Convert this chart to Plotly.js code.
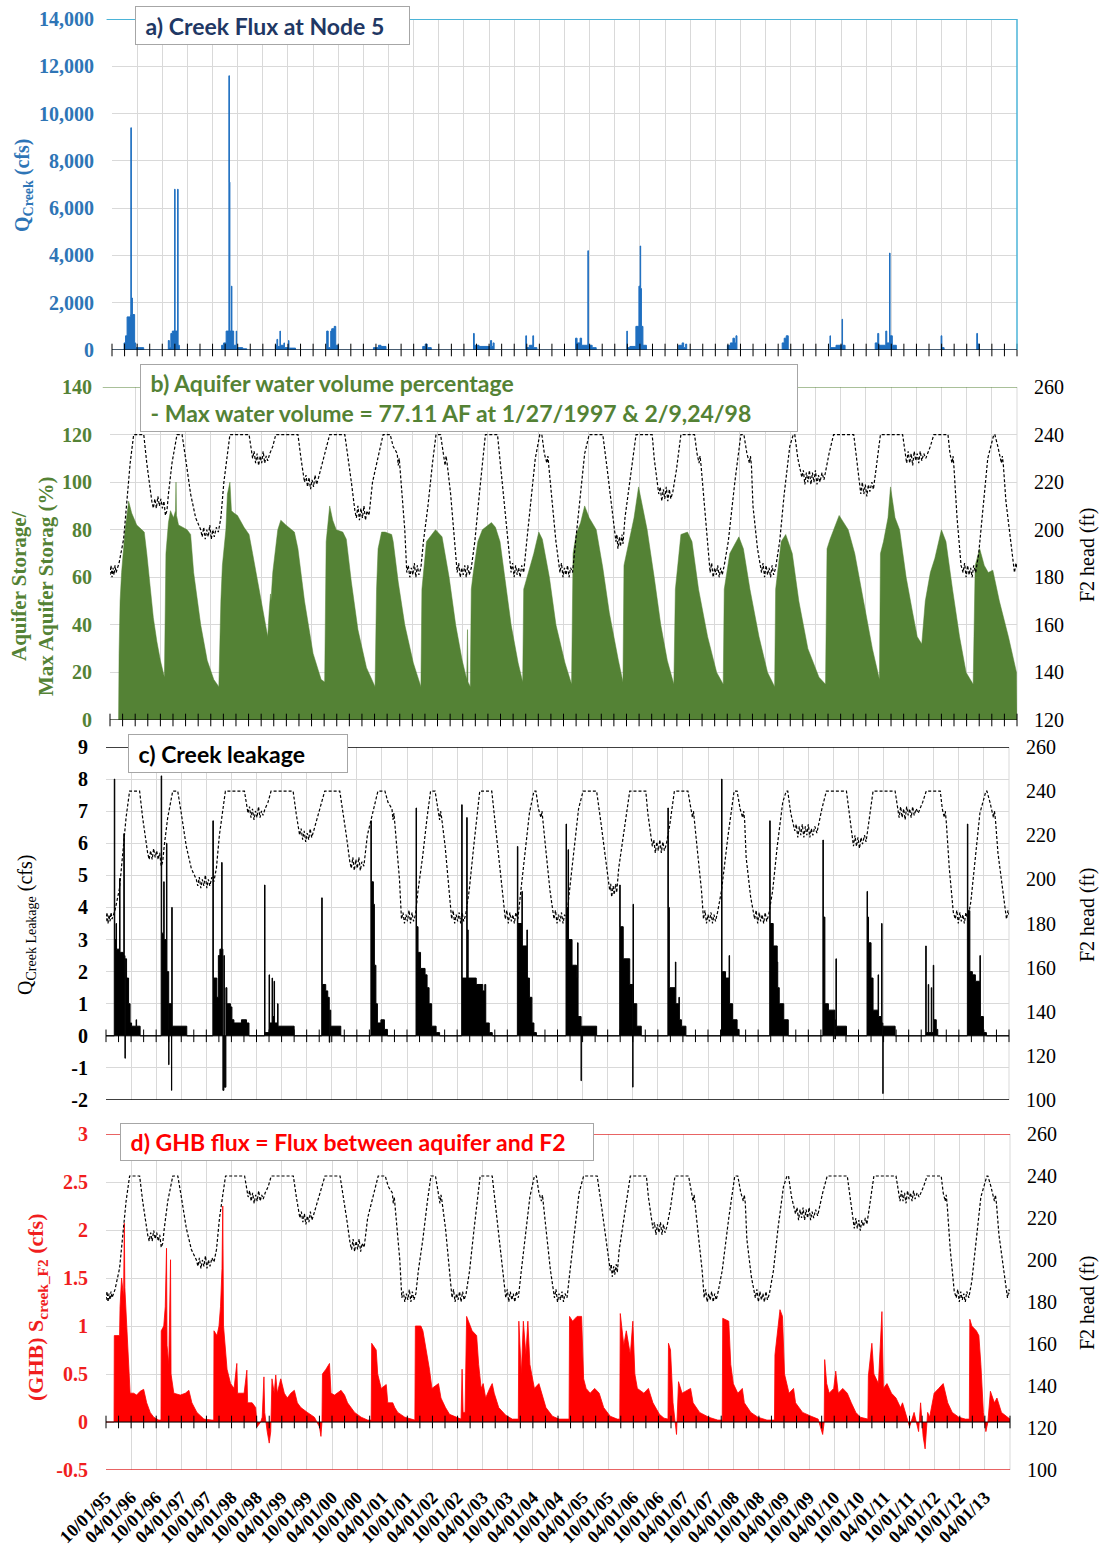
<!DOCTYPE html>
<html><head><meta charset="utf-8">
<script src="https://cdn.plot.ly/plotly-3.0.1.min.js"></script>
<style>html,body{margin:0;padding:0;background:#fff}#chart{width:1099px;height:1548px}</style>
</head><body><div id="chart"></div>
<script>
// ---------- tick labels ----------
const tickLabels = ['10/01/95','04/01/96','10/01/96','04/01/97','10/01/97','04/01/98','10/01/98','04/01/99','10/01/99','04/01/00',
  '10/01/00','04/01/01','10/01/01','04/01/02','10/01/02','04/01/03','10/01/03','04/01/04','10/01/04','04/01/05',
  '10/01/05','04/01/06','10/01/06','04/01/07','10/01/07','04/01/08','10/01/08','04/01/09','10/01/09','04/01/10',
  '10/01/10','04/01/11','10/01/11','04/01/12','10/01/12','04/01/13'];
const axisEndLabel = '10/01/13';

// ---------- a) Creek flux at node 5 (decimal year, cfs) ----------
const qCreekYear = [
 1995.75,1995.99,1996.02,1996.05,1996.12,1996.125,1996.135,1996.145,1996.155,1996.2,1996.22,1996.38,
 1996.87,1996.89,1996.92,1996.95,1996.995,1997.005,1997.055,1997.065,1997.09,
 1997.93,1997.97,1998.02,1998.075,1998.085,1998.095,1998.125,1998.135,1998.17,1998.22,1998.23,1998.35,1998.43,
 1999.0,1999.03,1999.045,1999.09,1999.1,1999.17,1999.18,1999.26,1999.27,1999.4,
 2000.02,2000.05,2000.1,2000.12,2000.17,2000.2,2000.25,
 2000.95,2001.05,2001.1,2001.2,
 2001.93,2001.98,2002.02,2002.1,
 2002.94,2002.955,2003.05,2003.28,2003.3,2003.33,2003.35,
 2003.98,2003.995,2004.05,2004.12,2004.135,2004.2,
 2004.97,2005.0,2005.06,2005.09,2005.215,2005.225,2005.3,2005.38,
 2005.99,2006.0,2006.05,2006.17,2006.23,2006.255,2006.265,2006.28,2006.31,2006.38,
 2007.02,2007.09,2007.12,2007.16,2007.18,
 2007.99,2008.05,2008.1,2008.13,2008.16,2008.18,
 2009.08,2009.12,2009.16,2009.2,
 2010.03,2010.04,2010.15,2010.27,2010.28,2010.33,
 2010.93,2010.98,2011.0,2011.14,2011.16,2011.215,2011.225,2011.27,2011.35,
 2012.24,2012.255,2012.3,
 2012.95,2012.965,2013.0,2013.75];
const qCreekCfs = [
 0,300,600,1400,1500,9400,1500,2200,1500,300,100,0,
 400,100,700,800,6800,800,6800,200,0,
 200,300,800,11600,7100,800,2700,800,200,800,100,50,0,
 200,450,150,800,200,300,100,400,80,0,
 800,100,800,900,1000,200,0,
 100,200,150,0,
 150,250,100,0,
 700,200,150,400,150,300,0,
 600,100,200,600,100,0,
 500,300,500,200,4200,200,100,0,
 800,100,150,1000,2700,4400,2600,1000,200,0,
 200,300,100,250,0,
 200,300,500,300,600,0,
 300,500,600,0,
 600,100,200,1300,200,0,
 300,700,200,800,300,4100,600,200,0,
 600,100,0,
 700,250,0,0];

// ---------- b) Aquifer storage / max storage (%) ----------
const storageYear = [
 1995.75,1995.92,1995.93,1995.95,1995.98,1996.05,1996.12,1996.18,1996.28,1996.38,1996.43,1996.48,1996.55,1996.61,1996.68,1996.75,1996.83,
 1996.86,1996.91,1996.95,1997.01,1997.05,1997.06,1997.07,1997.11,1997.28,1997.35,1997.41,1997.55,1997.68,1997.81,1997.91,
 1997.95,1997.98,1998.05,1998.08,1998.13,1998.16,1998.21,1998.28,1998.41,1998.51,1998.58,1998.68,1998.81,1998.88,
 1998.91,1998.935,1998.945,1998.98,1999.08,1999.14,1999.24,1999.41,1999.48,1999.61,1999.78,1999.94,2000.01,
 2000.04,2000.11,2000.17,2000.24,2000.37,2000.44,2000.54,2000.67,2000.84,2001.01,
 2001.04,2001.07,2001.14,2001.21,2001.34,2001.37,2001.47,2001.6,2001.77,2001.92,
 2001.94,2002.03,2002.21,2002.34,2002.48,2002.61,2002.74,2002.83,2002.845,2002.855,2002.9,
 2002.92,2002.96,2003.05,2003.14,2003.32,2003.4,2003.49,2003.58,2003.71,2003.85,2003.94,
 2003.96,2004.07,2004.16,2004.26,2004.33,2004.47,2004.6,2004.78,2004.91,
 2004.94,2005.0,2005.09,2005.17,2005.26,2005.4,2005.53,2005.66,2005.84,2005.93,
 2005.95,2006.02,2006.15,2006.24,2006.33,2006.41,2006.55,2006.68,2006.81,2006.94,
 2006.97,2007.08,2007.21,2007.3,2007.43,2007.61,2007.79,2007.92,
 2007.94,2008.05,2008.23,2008.32,2008.45,2008.63,2008.8,2008.94,
 2008.96,2009.07,2009.16,2009.29,2009.42,2009.6,2009.82,2009.95,
 2009.98,2010.04,2010.22,2010.4,2010.53,2010.71,2010.88,2011.02,
 2011.04,2011.1,2011.19,2011.24,2011.33,2011.42,2011.55,2011.68,2011.77,2011.86,
 2011.93,2012.03,2012.12,2012.25,2012.34,2012.47,2012.61,2012.74,2012.88,
 2012.92,2013.01,2013.1,2013.18,2013.27,2013.4,2013.58,2013.74,2013.75];
const storagePct = [
 0,0,28,50,62,80,92,87,82,80,79,70,55,43,33,25,18,
 70,83,88,85,88,100,86,82,80,78,62,40,25,17,14,
 50,65,80,95,100,88,87,86,81,78,70,58,43,35,
 46,53,50,62,80,84,82,79,72,50,28,17,16,
 75,90,84,80,79,76,58,38,22,14,
 55,72,79,79,78,75,58,40,24,14,
 55,75,80,77,60,40,25,17,38,16,14,
 55,62,75,80,83,81,75,60,40,24,16,
 55,63,70,79,76,60,40,24,15,
 70,78,83,90,85,80,64,45,25,16,
 65,72,85,98,88,80,60,40,25,15,
 55,78,79,75,55,35,20,15,
 55,70,77,72,55,35,20,14,
 55,75,78,70,50,30,18,15,
 72,76,86,80,70,50,30,17,
 70,75,85,98,85,80,60,45,35,32,
 50,62,68,80,75,55,35,20,15,
 65,72,65,62,63,50,35,20,0];

// ---------- c) Creek leakage (cfs) ----------
const leakYear = [
 1995.75,1995.915,1995.925,1995.95,1995.96,1996.02,1996.03,1996.105,1996.115,1996.128,1996.135,1996.16,1996.2,1996.23,1996.26,1996.35,1996.36,1996.43,
 1996.85,1996.86,1996.9,1996.91,1996.955,1996.965,1997.0,1997.005,1997.055,1997.06,1997.07,1997.36,
 1997.88,1997.89,1997.96,1997.99,1998.02,1998.055,1998.065,1998.08,1998.1,1998.11,1998.14,1998.16,1998.23,1998.26,1998.3,1998.45,1998.55,1998.6,
 1998.91,1998.92,1999.0,1999.01,1999.06,1999.07,1999.1,1999.11,1999.17,1999.18,1999.5,
 2000.05,2000.06,2000.13,2000.17,2000.2,2000.21,2000.23,2000.43,
 2001.03,2001.04,2001.08,2001.1,2001.13,2001.16,2001.23,2001.3,2001.36,
 2001.93,2001.94,2001.97,2002.02,2002.11,2002.15,2002.19,2002.24,2002.33,2002.4,
 2002.84,2002.85,2002.94,2002.95,2002.97,2003.13,2003.26,2003.3,2003.32,2003.39,2003.45,
 2003.95,2003.96,2004.04,2004.05,2004.14,2004.15,2004.19,2004.24,2004.28,2004.33,
 2004.92,2004.93,2004.96,2004.97,2005.04,2005.13,2005.15,2005.16,2005.22,2005.225,2005.53,
 2005.99,2006.0,2006.06,2006.19,2006.25,2006.255,2006.265,2006.33,2006.42,
 2006.95,2006.96,2006.98,2007.1,2007.11,2007.17,2007.18,2007.22,2007.31,
 2008.02,2008.03,2008.1,2008.17,2008.18,2008.24,2008.33,2008.37,
 2008.98,2008.99,2009.05,2009.13,2009.14,2009.17,2009.26,2009.35,
 2010.04,2010.05,2010.08,2010.15,2010.28,2010.29,2010.3,2010.31,2010.51,
 2010.92,2010.93,2010.95,2011.0,2011.04,2011.14,2011.15,2011.21,2011.22,2011.235,2011.24,2011.48,
 2012.09,2012.1,2012.14,2012.15,2012.2,2012.21,2012.24,2012.25,2012.3,2012.33,
 2012.92,2012.93,2012.97,2013.02,2013.08,2013.17,2013.18,2013.24,2013.3,2013.75];
const leakCfs = [
 0,8.0,3.0,3.5,2.7,4.9,2.6,6.3,2.5,-0.7,2.4,1.8,1.0,0.4,0.3,0.5,0.3,0,
 8.1,3.2,4.8,3.0,6.0,2.0,-0.9,1.0,-1.7,4.0,0.3,0,
 6.7,1.8,1.2,2.5,2.7,5.4,2.7,-1.7,2.5,-1.6,1.5,1.0,0.9,0.5,0.4,0.5,0.4,0,
 4.7,0.1,1.9,0.4,1.8,0.6,1.7,0.4,1.0,0.3,0,
 4.3,1.6,1.4,1.2,-0.2,0.8,0.3,0,
 6.7,4.8,4.1,2.2,1.0,0.4,0.5,0.2,0,
 7.1,3.4,2.6,2.1,1.9,1.5,1.0,0.3,0.1,0,
 7.2,1.8,6.8,3.3,1.8,1.6,1.4,1.6,0.4,0.1,0,
 5.9,3.5,4.5,2.8,3.3,1.8,1.2,0.4,0.1,0,
 6.6,4.0,5.8,3.0,2.2,1.8,2.9,0.6,-1.4,0.3,0,
 4.7,3.4,2.4,1.6,-1.6,4.1,1.0,0.3,0,
 7.1,4.0,1.5,2.3,1.0,1.2,0.5,0.3,0,
 8.0,2.0,1.8,2.5,1.0,0.5,0.2,0,
 6.7,3.5,2.8,2.3,1.5,1.0,0.5,0,
 6.1,3.7,1.0,0.8,-0.1,0.5,2.4,0.3,0,
 4.5,3.7,2.9,1.8,0.8,1.9,0.6,3.5,0.4,-1.8,0.3,0,
 2.8,0.1,1.6,0.1,1.5,0.1,2.2,0.5,0.2,0,
 6.6,3.9,2.0,1.9,1.7,2.5,0.6,0.1,0,0];

// ---------- d) GHB flux between aquifer and F2 (cfs) ----------
const ghbYear = [
 1995.75,1995.91,1995.915,1996.02,1996.03,1996.06,1996.1,1996.115,1996.125,1996.16,1996.2,1996.23,1996.3,1996.36,1996.43,1996.5,1996.56,1996.63,1996.7,1996.8,
 1996.845,1996.85,1996.9,1996.93,1996.955,1996.965,1997.0,1997.035,1997.045,1997.06,1997.1,1997.23,1997.33,1997.4,1997.46,1997.56,1997.7,1997.86,
 1997.895,1997.9,1997.96,1998.0,1998.03,1998.06,1998.075,1998.09,1998.16,1998.23,1998.3,1998.355,1998.37,1998.5,1998.555,1998.57,1998.66,1998.73,
 1998.76,1998.83,1998.86,1998.895,1998.91,1998.96,1999.0,1999.03,1999.055,1999.1,1999.13,1999.16,1999.23,1999.3,1999.36,1999.43,1999.5,1999.56,1999.63,1999.76,1999.9,2000.0,2000.03,2000.05,
 2000.06,2000.13,2000.2,2000.23,2000.3,2000.43,2000.5,2000.56,2000.7,2000.83,2000.96,2001.03,
 2001.04,2001.13,2001.16,2001.23,2001.33,2001.36,2001.46,2001.5,2001.56,2001.7,2001.9,
 2001.91,2002.02,2002.06,2002.15,2002.19,2002.24,2002.33,2002.37,2002.42,2002.51,2002.59,2002.73,2002.82,
 2002.84,2002.86,2002.9,2002.93,2003.04,2003.13,2003.17,2003.22,2003.26,2003.31,2003.39,2003.44,2003.48,2003.57,2003.71,2003.84,2003.96,
 2003.97,2004.02,2004.06,2004.11,2004.15,2004.19,2004.28,2004.37,2004.42,2004.51,2004.64,2004.77,2004.97,
 2004.98,2005.04,2005.13,2005.22,2005.26,2005.31,2005.39,2005.48,2005.57,2005.66,2005.79,2005.93,2005.98,
 2005.99,2006.06,2006.11,2006.19,2006.24,2006.28,2006.33,2006.46,2006.55,2006.64,2006.77,2006.86,2006.94,
 2006.95,2006.99,2007.04,2007.11,2007.13,2007.15,2007.22,2007.39,2007.44,2007.57,2007.75,2007.93,2008.02,
 2008.03,2008.15,2008.19,2008.24,2008.33,2008.42,2008.46,2008.59,2008.73,2008.91,2009.06,
 2009.07,2009.13,2009.17,2009.22,2009.26,2009.35,2009.44,2009.48,2009.62,2009.79,2009.93,2010.02,2010.05,
 2010.06,2010.1,2010.15,2010.24,2010.28,2010.33,2010.42,2010.51,2010.59,2010.68,2010.77,2010.92,
 2010.93,2011.0,2011.04,2011.13,2011.2,2011.23,2011.3,2011.39,2011.48,2011.57,2011.61,2011.66,2011.7,2011.75,2011.84,2011.93,2011.97,2012.02,2012.06,2012.11,2012.15,
 2012.24,2012.33,2012.42,2012.51,2012.6,2012.73,2012.86,2012.94,
 2012.95,2012.99,2013.08,2013.13,2013.17,2013.22,2013.27,2013.31,2013.36,2013.44,2013.49,2013.58,2013.72,2013.75];
const ghbCfs = [
 0,0,0.9,0.9,1.2,1.5,1.3,2.07,1.4,1.0,0.6,0.3,0.3,0.28,0.32,0.34,0.2,0.1,0.05,0.02,
 0.02,0.95,1.0,1.2,1.81,0.8,0.6,1.69,0.5,0.45,0.3,0.28,0.3,0.33,0.2,0.1,0.03,0.02,
 0.02,0.95,0.9,1.0,1.2,1.6,2.25,1.0,0.55,0.4,0.35,0.61,0.3,0.3,0.54,0.2,0.2,0.15,
 -0.05,0.0,0.05,0.47,0.1,-0.1,-0.22,-0.1,0.45,0.3,0.49,0.3,0.45,0.3,0.25,0.3,0.33,0.2,0.15,0.1,0.05,-0.05,-0.15,0.0,
 0.5,0.55,0.61,0.3,0.28,0.33,0.28,0.2,0.1,0.05,0.02,0.02,
 0.82,0.75,0.5,0.35,0.39,0.2,0.2,0.15,0.1,0.05,0.02,
 1.0,1.0,0.95,0.7,0.55,0.35,0.38,0.4,0.25,0.15,0.08,0.05,0.03,
 0.55,0.1,0.1,1.1,0.95,0.9,0.6,0.35,0.4,0.25,0.35,0.4,0.3,0.15,0.07,0.03,0.03,
 1.05,0.5,1.05,0.7,1.05,0.6,0.35,0.4,0.3,0.15,0.06,0.03,0.03,
 1.1,1.05,1.1,1.1,0.45,0.35,0.3,0.35,0.3,0.15,0.06,0.03,0.03,
 1.13,0.8,0.95,0.7,1.05,0.5,0.35,0.3,0.35,0.2,0.08,0.04,0.03,
 0.82,0.75,0.2,-0.13,0.2,0.42,0.3,0.35,0.2,0.1,0.05,0.02,0.02,
 1.08,1.05,0.6,0.4,0.3,0.35,0.2,0.1,0.05,0.02,0.02,
 0.7,1.0,1.17,1.1,0.5,0.3,0.35,0.2,0.1,0.06,0.03,-0.13,0.0,
 0.65,0.4,0.3,0.35,0.53,0.3,0.35,0.3,0.2,0.1,0.05,0.03,
 0.48,0.82,0.5,0.4,1.15,0.35,0.4,0.3,0.25,0.15,0.2,0.1,0.05,-0.05,0.1,-0.1,0.2,-0.15,-0.28,0.1,0.05,
 0.3,0.35,0.4,0.2,0.1,0.05,0.03,0.03,
 1.07,1.0,0.95,0.9,0.6,0.1,-0.1,0.0,0.32,0.2,0.25,0.1,0.05,0.03];

// ---------- F2 head (ft) ----------
const headYear = [
 1995.75,1995.77,1995.79,1995.81,1995.83,1995.85,1995.87,1995.9,1995.93,1996.02,1996.08,1996.15,1996.22,1996.42,1996.48,1996.55,1996.58,
 1996.61,1996.64,1996.67,1996.7,1996.73,1996.76,1996.79,1996.82,1996.85,1996.88,1996.91,1996.98,1997.08,1997.18,1997.25,1997.35,1997.45,1997.55,
 1997.58,1997.61,1997.64,1997.67,1997.7,1997.73,1997.76,1997.79,1997.82,1997.86,1997.9,1997.95,1998.01,1998.08,1998.13,1998.51,1998.58,
 1998.61,1998.64,1998.67,1998.7,1998.73,1998.76,1998.79,1998.82,1998.85,1998.88,1998.92,1998.98,1999.04,1999.48,1999.54,1999.61,
 1999.64,1999.67,1999.7,1999.73,1999.76,1999.79,1999.82,1999.85,1999.89,1999.96,2000.04,2000.11,2000.41,2000.48,2000.54,2000.61,
 2000.64,2000.67,2000.7,2000.73,2000.76,2000.79,2000.82,2000.85,2000.89,2000.96,2001.06,2001.17,2001.31,2001.37,2001.45,2001.47,2001.49,2001.54,2001.6,2001.64,
 2001.67,2001.7,2001.73,2001.76,2001.79,2001.82,2001.85,2001.88,2001.92,2001.97,2002.06,2002.15,2002.22,2002.31,2002.37,2002.4,2002.42,2002.44,2002.51,2002.59,2002.64,
 2002.67,2002.7,2002.73,2002.76,2002.79,2002.82,2002.85,2002.88,2002.92,2002.99,2003.08,2003.2,2003.44,2003.53,2003.62,2003.71,
 2003.74,2003.77,2003.8,2003.83,2003.86,2003.89,2003.92,2003.96,2004.02,2004.11,2004.19,2004.28,2004.32,2004.37,2004.42,2004.44,2004.46,2004.51,2004.6,2004.68,
 2004.71,2004.74,2004.77,2004.8,2004.83,2004.86,2004.89,2004.93,2004.99,2005.08,2005.17,2005.26,2005.53,2005.62,2005.71,2005.79,
 2005.81,2005.83,2005.86,2005.88,2005.91,2005.93,2005.97,2006.06,2006.15,2006.19,2006.51,2006.55,2006.64,
 2006.67,2006.7,2006.73,2006.76,2006.79,2006.82,2006.85,2006.88,2006.92,2006.99,2007.08,2007.35,2007.4,2007.44,2007.46,2007.48,2007.53,2007.62,2007.66,
 2007.69,2007.72,2007.75,2007.78,2007.81,2007.84,2007.87,2007.9,2007.94,2008.02,2008.15,2008.27,2008.33,2008.39,2008.44,2008.46,2008.48,2008.51,2008.6,2008.68,
 2008.71,2008.74,2008.77,2008.8,2008.83,2008.86,2008.89,2008.92,2008.96,2009.04,2009.13,2009.24,2009.31,2009.34,2009.4,2009.48,
 2009.51,2009.54,2009.57,2009.6,2009.63,2009.66,2009.69,2009.72,2009.75,2009.78,2009.81,2009.84,2009.88,2009.92,2010.02,2010.11,2010.51,2010.56,2010.62,
 2010.65,2010.68,2010.71,2010.74,2010.77,2010.8,2010.83,2010.87,2010.9,2010.95,2011.04,2011.48,2011.53,
 2011.56,2011.59,2011.62,2011.65,2011.68,2011.71,2011.74,2011.77,2011.8,2011.83,2011.86,2011.9,2011.94,2012.03,2012.1,2012.38,2012.42,2012.46,2012.48,2012.5,2012.56,2012.64,2012.68,
 2012.71,2012.74,2012.77,2012.8,2012.83,2012.86,2012.89,2012.93,2012.99,2013.08,2013.17,2013.29,2013.31,2013.37,2013.44,2013.46,2013.48,2013.53,2013.62,2013.7,2013.73,2013.75];
const headFt = [
 181,185,180,184,181,185,182,184,186,196,210,228,240,240,228,215,212,
 209,213,209,214,210,213,209,212,206,208,215,228,240,240,230,215,205,200,
 197,201,196,200,197,202,196,200,197,201,199,205,220,233,240,240,230,
 233,228,232,227,231,228,233,228,231,229,232,235,240,240,230,220,
 223,218,222,217,221,218,223,219,222,228,235,240,240,230,220,208,
 205,210,204,209,205,210,204,208,206,220,230,240,240,235,232,227,230,215,200,182,
 185,180,184,181,186,180,185,181,184,195,210,228,240,240,232,227,231,228,215,195,182,
 186,180,184,181,185,180,185,181,184,195,215,240,240,220,200,182,
 186,180,185,181,184,180,185,182,195,215,230,240,240,232,228,231,227,215,195,182,
 186,180,184,181,185,180,184,182,195,215,232,240,240,225,210,195,
 198,192,197,193,198,194,205,220,235,240,240,230,215,
 218,212,217,213,218,212,217,213,216,225,240,240,232,228,231,227,215,195,182,
 186,180,184,181,185,180,184,181,185,195,220,240,240,232,228,231,227,210,192,182,
 186,180,185,181,184,180,185,181,184,195,215,235,240,240,230,222,
 225,219,224,220,225,219,224,220,225,219,223,220,224,221,232,240,240,230,220,
 215,220,215,219,214,219,216,220,217,225,240,240,232,
 228,233,228,232,227,233,229,232,228,233,229,232,230,235,240,240,232,228,231,226,205,185,182,
 186,180,185,181,184,180,185,182,190,210,230,240,240,235,228,231,227,212,195,182,186,184];

// ---------- sanity ----------
[['qCreek',qCreekYear,qCreekCfs],['storage',storageYear,storagePct],['leak',leakYear,leakCfs],['ghb',ghbYear,ghbCfs],['head',headYear,headFt]]
 .forEach(([n,a,b])=>{ if(a.length!==b.length) throw new Error(n+' length mismatch '+a.length+' vs '+b.length); });

// ---------- axes helpers ----------
function labelToYear(s){ const p=s.split('/').map(Number); return (p[2]<50?2000+p[2]:1900+p[2]) + (p[0]-1)/12; }
const x0 = labelToYear(tickLabels[0]), x1 = labelToYear(axisEndLabel);
const gridVals = tickLabels.map(labelToYear);
const tickMarks = []; for (let k=0; x0+0.25*k <= x1+1e-9; k++) tickMarks.push(x0+0.25*k);
const tickZeros = tickMarks.map(()=>0);

const W=1099, H=1548;
const P = { a:{l:112,r:1017,t:19,b:350}, b:{l:110,r:1017,t:387,b:720}, c:{l:106,r:1009,t:747,b:1100}, d:{l:106,r:1010,t:1134,b:1470} };
const dx = p => [p.l/W, p.r/W], dy = p => [1-p.b/H, 1-p.t/H];
const SERIF = 'Liberation Serif', SANS = 'Lato';
const GRID = '#D9D9D9';
const BLUE='#2E75B6', GREEN='#548235', RED='#F01E1E';

function xAxis(p, anchor, labels){
  return {domain:dx(p), anchor, range:[x0,x1], tickmode:'array', tickvals:gridVals, ticktext:tickLabels,
    showgrid:true, gridcolor:GRID, gridwidth:1, zeroline:false, showline:false,
    ticks:labels?'outside':'', ticklen:9, tickcolor:'rgba(0,0,0,0)',
    showticklabels:labels, tickangle:-45,
    tickfont:{family:SERIF, size:18, color:'#000', weight:'bold'}, fixedrange:true};
}
function yTicks(range, dtick){ const v=[]; for(let k=0; range[0]+k*dtick <= range[1]+1e-9; k++) v.push(+(range[0]+k*dtick).toFixed(3)); return v; }
function yLeft(p, anchor, range, dtick, color, comma){
  const vals = yTicks(range, dtick);
  return {domain:dy(p), anchor, range, tickmode:'array', tickvals:vals,
    ticktext: vals.map(v => comma ? v.toLocaleString('en-US') : String(v)),
    showgrid:true, gridcolor:GRID, zeroline:false, showline:false, ticks:'outside', ticklen:13, tickcolor:'rgba(0,0,0,0)',
    tickfont:{family:SERIF, size:20, color, weight:'bold'}, fixedrange:true};
}
function yRight(over, anchor, range){
  return {overlaying:over, anchor, side:'right', range, dtick:20, tick0:0, showgrid:false, zeroline:false,
    showline:false, ticks:'outside', ticklen:12, tickcolor:'rgba(0,0,0,0)',
    tickfont:{family:SERIF, size:20, color:'#000'}, fixedrange:true};
}

const headLine = {color:'#000', width:1.2, dash:'3px,2px'};
const tickTrace = (xa, ya) => ({x:tickMarks, y:tickZeros, xaxis:xa, yaxis:ya, type:'scatter', mode:'markers', cliponaxis:false,
  marker:{symbol:'line-ns', size:9, color:'#000', line:{width:1, color:'#000'}}, hoverinfo:'skip'});

const data = [
  {x:qCreekYear, y:qCreekCfs, xaxis:'x', yaxis:'y', type:'scatter', mode:'lines', line:{shape:'hv', color:'#1F6FC0', width:1}, fill:'tozeroy', fillcolor:'#1F6FC0'},
  {x:storageYear, y:storagePct, xaxis:'x2', yaxis:'y2', type:'scatter', mode:'lines', line:{color:GREEN, width:0.5}, fill:'tozeroy', fillcolor:GREEN},
  {x:headYear, y:headFt, xaxis:'x2', yaxis:'y3', type:'scatter', mode:'lines', line:headLine},
  {x:leakYear, y:leakCfs, xaxis:'x3', yaxis:'y4', type:'scatter', mode:'lines', line:{shape:'hv', color:'#000', width:1}, fill:'tozeroy', fillcolor:'#000'},
  {x:headYear, y:headFt, xaxis:'x3', yaxis:'y5', type:'scatter', mode:'lines', line:headLine},
  {x:ghbYear, y:ghbCfs, xaxis:'x4', yaxis:'y6', type:'scatter', mode:'lines', line:{color:'#FF0000', width:0.8}, fill:'tozeroy', fillcolor:'#FF0000'},
  {x:headYear, y:headFt, xaxis:'x4', yaxis:'y7', type:'scatter', mode:'lines', line:headLine},
  tickTrace('x','y'), tickTrace('x2','y2'), tickTrace('x3','y4'), tickTrace('x4','y6')
];

const hline = (xr, yr, y, color, w, ext) => ({type:'line', xref:xr+' domain', yref:yr, x0:ext||0, x1:1, y0:y, y1:y, line:{color, width:w}});
const vedge = (xr, yr, color, w) => ({type:'line', layer:'below', xref:xr+' domain', yref:yr+' domain', x0:1, x1:1, y0:0, y1:1, line:{color, width:w}});
const shapes = [
  vedge('x2','y2',GRID,1), vedge('x3','y4',GRID,1), vedge('x4','y6',GRID,1),
  hline('x','y',14000,'#4BB4D8',2,-0.006),
  {type:'line', xref:'x domain', yref:'y domain', x0:1, x1:1, y0:0, y1:1, line:{color:'#4BB4D8', width:1.5}},
  hline('x','y',0,'#000',1),
  hline('x2','y2',140,GREEN,1.2,-0.008),
  hline('x2','y2',0,'#000',1),
  hline('x3','y4',9,'#000',1.3),
  hline('x3','y4',-2,'#000',1.5),
  hline('x3','y4',0,'#000',1),
  hline('x4','y6',3,'#E03030',1.5),
  hline('x4','y6',-0.5,'#E03030',1.5),
  hline('x4','y6',0,'#000',1)
];

const px = v => v/W, py = v => 1 - v/H;
function box(text, l, t, w, h, color){
  return {text, xref:'paper', yref:'paper', x:px(l), y:py(t), xanchor:'left', yanchor:'top', showarrow:false,
    align:'left', valign:'middle', width:w, height:h, borderpad:4, bordercolor:'#A6A6A6', borderwidth:1, bgcolor:'#fff',
    font:{family:SANS, size:23, color, weight:'bold'}};
}
function vtitle(text, x, y, color, bold, size){
  return {text, xref:'paper', yref:'paper', x:px(x), y:py(y), xanchor:'center', yanchor:'middle', showarrow:false,
    textangle:-90, font:{family:SERIF, size:size||20, color, weight:bold?'bold':'normal'}};
}
const annotations = [
  box('&nbsp;a) Creek Flux at Node 5', 135, 6, 265, 29, '#1F3864'),
  box('&nbsp;b) Aquifer water volume percentage<br>&nbsp;- Max water volume = 77.11 AF at 1/27/1997 &amp; 2/9,24/98', 140, 364, 648, 58, GREEN),
  box('&nbsp;c) Creek leakage', 128, 734, 210, 29, '#000'),
  box('&nbsp;d) GHB flux = Flux between aquifer and F2', 120, 1123, 464, 28, '#FF0000'),
  vtitle('Q<sub>Creek</sub> (cfs)', 23, 185, BLUE, true, 20),
  vtitle('Aquifer Storage/<br>Max Aquifer Storag (%)', 32, 586, GREEN, true, 21),
  vtitle('Q<sub>Creek Leakage</sub> (cfs)', 26, 925, '#000', false, 20),
  vtitle('(GHB) S<sub>creek_F2</sub> (cfs)', 37, 1307, RED, true, 22),
  vtitle('F2 head (ft)', 1087, 555, '#000', false, 20),
  vtitle('F2 head (ft)', 1087, 915, '#000', false, 20),
  vtitle('F2 head (ft)', 1087, 1303, '#000', false, 20)
];

const layout = {
  width:W, height:H, margin:{l:0, r:0, t:0, b:0}, paper_bgcolor:'#fff', plot_bgcolor:'#fff',
  showlegend:false, hovermode:false,
  xaxis: xAxis(P.a,'y',false),
  xaxis2: xAxis(P.b,'y2',false),
  xaxis3: xAxis(P.c,'y4',false),
  xaxis4: xAxis(P.d,'y6',true),
  yaxis: yLeft(P.a,'x',[0,14000],2000,BLUE,true),
  yaxis2: yLeft(P.b,'x2',[0,140],20,GREEN),
  yaxis3: yRight('y2','x2',[120,260]),
  yaxis4: yLeft(P.c,'x3',[-2,9],1,'#000'),
  yaxis5: yRight('y4','x3',[100,260]),
  yaxis6: yLeft(P.d,'x4',[-0.5,3],0.5,RED),
  yaxis7: yRight('y6','x4',[100,260]),
  shapes, annotations
};

Plotly.newPlot('chart', data, layout, {displayModeBar:false, staticPlot:true});
</script></body></html>
